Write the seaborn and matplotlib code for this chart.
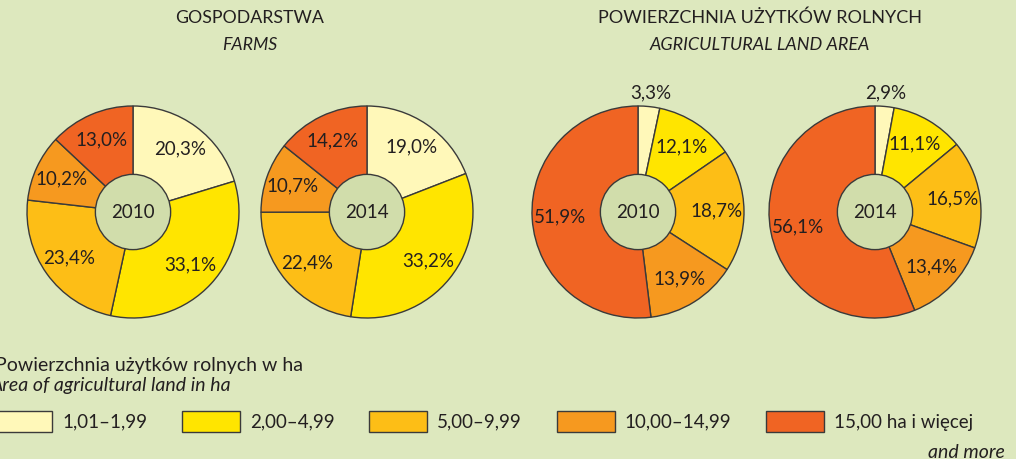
import numpy as np
import seaborn as sns
import matplotlib.pyplot as plt
from matplotlib.patches import Circle, Patch

# data
size_classes = ['1,01–1,99', '2,00–4,99', '5,00–9,99', '10,00–14,99', '15,00 ha i więcej']
farms_2010 = [20.3, 33.1, 23.4, 10.2, 13.0]
farms_2014 = [19.0, 33.2, 22.4, 10.7, 14.2]
land_2010 = [3.3, 12.1, 18.7, 13.9, 51.9]
land_2014 = [2.9, 11.1, 16.5, 13.4, 56.1]
years = ['2010', '2014', '2010', '2014']

sns.set_style('white')
plt.rcParams['font.family'] = ['Lato', 'DejaVu Sans']

bg = '#dde8be'
hole = '#d1ddab'
edge = '#3a3a3a'
txt = '#231f20'
palette = sns.color_palette(['#fff8b9', '#ffe500', '#fdbe16', '#f6991f', '#f06423'])

W, H = 1016, 459
fig = plt.figure(figsize=(W / 100, H / 100), dpi=100)
fig.patch.set_facecolor(bg)

# pie centres in pixels (from top-left), radius in px
centres = [(133, 212), (367, 212), (638, 212), (875, 212)]
R = 106
box = 250
lim = box / 2 / R

for (cx, cy), vals, yr in zip(centres, [farms_2010, farms_2014, land_2010, land_2014], years):
    ax = fig.add_axes([(cx - box / 2) / W, (H - cy - box / 2) / H, box / W, box / H])
    wedges, _ = ax.pie(vals, colors=palette, startangle=90, counterclock=False, radius=1,
                       wedgeprops=dict(edgecolor=edge, linewidth=1))
    for w, v in zip(wedges, vals):
        mid = np.deg2rad((w.theta1 + w.theta2) / 2)
        d = 1.13 if v < 5 else 0.74
        ax.text(d * np.cos(mid), d * np.sin(mid), f'{v:.1f}%'.replace('.', ','),
                ha='center', va='center', fontsize=13.5, color=txt)
    ax.add_patch(Circle((0, 0), 0.355, facecolor=hole, edgecolor=edge, linewidth=1, zorder=3))
    ax.text(0, 0, yr, ha='center', va='center', fontsize=13.5, color=txt, zorder=4)
    ax.set_xlim(-lim, lim)
    ax.set_ylim(-lim, lim)
    ax.axis('off')

# titles
fig.text(250 / W, 1 - 18 / H, 'GOSPODARSTWA', ha='center', va='center', fontsize=12.8, color=txt)
fig.text(250 / W, 1 - 45 / H, 'FARMS', ha='center', va='center', fontsize=12.8, style='italic', color=txt)
fig.text(760 / W, 1 - 18 / H, 'POWIERZCHNIA UŻYTKÓW ROLNYCH', ha='center', va='center', fontsize=13, color=txt)
fig.text(760 / W, 1 - 45 / H, 'AGRICULTURAL LAND AREA', ha='center', va='center', fontsize=13,
         style='italic', color=txt)

# legend
fs = 14
fig.text(-5 / W, 1 - 365 / H, 'Powierzchnia użytków rolnych w ha', ha='left', va='center', fontsize=fs, color=txt)
fig.text(-9 / W, 1 - 386 / H, 'Area of agricultural land in ha', ha='left', va='center', fontsize=fs,
         style='italic', color=txt)
handles = [Patch(facecolor=c, edgecolor=edge, linewidth=1) for c in palette]
fig.legend(handles, size_classes, loc='upper left', bbox_to_anchor=(-6 / W, 1 - 411 / H), ncol=5,
           frameon=False, fontsize=13.5, handlelength=3.1, handleheight=1.33, handletextpad=0.53,
           columnspacing=1.85, borderpad=0, borderaxespad=0, labelcolor=txt)
fig.text(1005 / W, 1 - 452 / H, 'and more', ha='right', va='center', fontsize=fs, style='italic', color=txt)

fig.savefig('out.png', dpi=100, facecolor=bg)
